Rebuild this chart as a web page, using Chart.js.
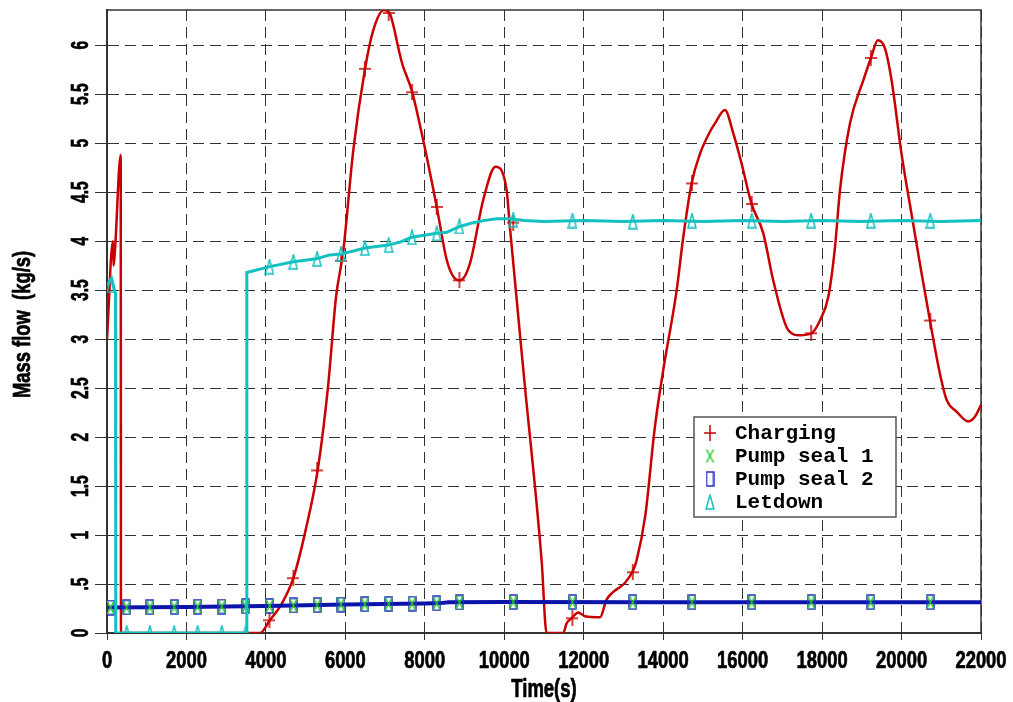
<!DOCTYPE html>
<html>
<head>
<meta charset="utf-8">
<title>Mass flow</title>
<script src="https://cdn.jsdelivr.net/npm/chart.js@4.4.0/dist/chart.umd.min.js"></script>
<style>
  html, body { margin: 0; padding: 0; background: #fff; }
  #wrap { width: 1013px; height: 702px; }
</style>
</head>
<body>
<div id="wrap"><canvas id="chart" width="1013" height="702"></canvas></div>
<script>
// axis ticks
const xTicks = [0, 2000, 4000, 6000, 8000, 10000, 12000, 14000, 16000, 18000, 20000, 22000];
const xTickLabels = ['0', '2000', '4000', '6000', '8000', '10000', '12000', '14000', '16000', '18000', '20000', '22000'];
const yTicks = [0, 0.5, 1, 1.5, 2, 2.5, 3, 3.5, 4, 4.5, 5, 5.5, 6];
const yTickLabels = ['0', '.5', '1', '1.5', '2', '2.5', '3', '3.5', '4', '4.5', '5', '5.5', '6'];
const xTitle = 'Time(s)';
const yTitle = 'Mass flow  (kg/s)';

const seriesNames = ['Charging', 'Pump seal 1', 'Pump seal 2', 'Letdown'];

// charging flow (kg/s)
const chargingTime = [0, 150, 165, 200, 345, 352, 3850, 4100, 4400, 4690, 5000, 5310, 5560, 5765, 5950, 6200, 6495, 6700, 6970,
  7120, 7375, 7440, 7670, 7960, 8300, 8550, 8715, 8885, 9135, 9470, 9780, 10060, 10140, 10500, 10940, 11065, 11485, 11570,
  11695, 11865, 12030, 12410, 12575, 12745, 13035, 13245, 13330, 13550, 13790, 14000, 14340, 14505, 14715, 14925, 15180,
  15300, 15555, 15765, 15975, 16225, 16520, 16770, 17150, 17440, 17735, 17945, 18155, 18325, 18450, 18700, 19035, 19230,
  19405, 19580, 19750, 20000, 20250, 20505, 20715, 20965, 21135, 21385, 21680, 21850, 22000];
const chargingFlow = [3.0, 4.0, 3.75, 3.9, 4.88, 0, 0, 0.13, 0.30, 0.56, 1.05, 1.68, 2.5, 3.43, 3.91, 4.93, 5.76, 6.15, 6.36,
  6.32, 5.90, 5.80, 5.54, 5.03, 4.35, 3.81, 3.64, 3.60, 3.77, 4.42, 4.76, 4.52, 4.15, 2.6, 0.74, 0, 0, 0.10,
  0.15, 0.21, 0.17, 0.16, 0.34, 0.42, 0.51, 0.64, 0.74, 1.2, 2.10, 2.68, 3.50, 4.04, 4.59, 4.89, 5.12,
  5.20, 5.34, 5.10, 4.79, 4.38, 4.08, 3.60, 3.09, 3.04, 3.06, 3.19, 3.43, 3.94, 4.52, 5.20, 5.64, 5.87,
  6.05, 5.97, 5.64, 4.89, 4.28, 3.67, 3.19, 2.65, 2.38, 2.26, 2.16, 2.21, 2.33];

// letdown flow (kg/s)
const letdownTime = [0, 115, 200, 215, 220, 3515, 3520, 4100, 4690, 5275, 5610, 5905, 6495, 7080, 7375, 7670, 8300, 8550,
  8885, 9135, 9470, 9805, 10140, 10500, 11000, 12000, 13000, 14000, 15000, 16000, 17000, 18000, 19000, 20000, 21000, 22000];
const letdownFlow = [3.55, 3.62, 3.48, 3.47, 0, 0, 3.68, 3.74, 3.79, 3.82, 3.86, 3.87, 3.93, 3.96, 3.99, 4.04, 4.08, 4.09,
  4.15, 4.18, 4.21, 4.23, 4.23, 4.21, 4.20, 4.21, 4.20, 4.21, 4.20, 4.21, 4.20, 4.21, 4.20, 4.21, 4.20, 4.21];

// pump seal flows (kg/s)
const sealTime = [0, 1000, 2000, 3000, 4000, 5000, 6000, 7000, 8000, 8400, 8600, 10000, 14000, 18000, 22000];
const seal1Flow = [0.26, 0.262, 0.265, 0.27, 0.275, 0.283, 0.29, 0.297, 0.302, 0.305, 0.315, 0.316, 0.315, 0.315, 0.315];
const seal2Flow = [0.26, 0.262, 0.265, 0.27, 0.275, 0.283, 0.29, 0.297, 0.302, 0.305, 0.315, 0.316, 0.315, 0.315, 0.315];

// symbols are only drawn every few output steps
const markTime = [90, 495, 1080, 1690, 2280, 2890, 3490, 4090, 4690, 5290, 5890, 6490, 7090, 7680, 8300, 8870,
  10225, 11715, 13235, 14725, 16228, 17725, 19225, 20725];
const chargingMark = [null, null, null, null, null, null, null, 0.13, 0.56, 1.66, 3.80, 5.76, 6.33, 5.52, 4.35, 3.60,
  4.19, 0.15, 0.62, 4.59, 4.38, 3.06, 5.87, 3.19];
const seal1Mark = [0.26, 0.262, 0.263, 0.265, 0.268, 0.27, 0.272, 0.276, 0.281, 0.285, 0.29, 0.294, 0.297, 0.3, 0.303, 0.312,
  0.316, 0.316, 0.315, 0.315, 0.315, 0.315, 0.315, 0.315];
const seal2Mark = [0.26, 0.262, 0.263, 0.265, 0.268, 0.27, 0.272, 0.276, 0.281, 0.285, 0.29, 0.294, 0.297, 0.3, 0.303, 0.312,
  0.316, 0.316, 0.315, 0.315, 0.315, 0.315, 0.315, 0.315];
const letdownMark = [3.55, 0, 0, 0, 0, 0, 0, 3.74, 3.79, 3.82, 3.87, 3.93, 3.96, 4.04, 4.08, 4.15,
  4.22, 4.21, 4.20, 4.21, 4.21, 4.21, 4.21, 4.21];

const RED = '#c80000';
const GREEN = '#22cc22';
const BLUE = '#0a14a8';
const CYAN = '#14c0c0';
const sans = "'Liberation Sans', Arial, sans-serif";

function toXY(ts, vs) {
    return ts.map((t, i) => ({x: t, y: vs[i]}));
}

// small canvases used as point symbols (tall, narrow like the original plot)
function makeMarker(w, h, color, draw) {
    const c = document.createElement('canvas');
    c.width = w;
    c.height = h;
    const g = c.getContext('2d');
    g.strokeStyle = color;
    g.lineWidth = 1.5;
    g.beginPath();
    draw(g, w, h);
    g.stroke();
    return c;
}

const plusMark = makeMarker(12, 16, RED, (g, w, h) => {
    g.moveTo(w / 2, 0); g.lineTo(w / 2, h);
    g.moveTo(0, h / 2); g.lineTo(w, h / 2);
});
const crossMark = makeMarker(9, 15, GREEN, (g, w, h) => {
    g.moveTo(1, 1); g.lineTo(w - 1, h - 1);
    g.moveTo(w - 1, 1); g.lineTo(1, h - 1);
});
const rectMark = makeMarker(9, 16, '#2030c0', (g, w, h) => {
    g.rect(1, 1, w - 2, h - 2);
});
const triMark = makeMarker(10, 16, CYAN, (g, w, h) => {
    g.moveTo(w / 2, 1); g.lineTo(w - 1, h - 1); g.lineTo(1, h - 1); g.closePath();
});
const legendMarks = [plusMark, crossMark, rectMark, triMark];

// the original uses a heavy narrow face, so the text is squeezed sideways and given a thin outline
function narrowText(ctx, text, x, y, sx, rot) {
    ctx.save();
    ctx.translate(x, y);
    ctx.rotate(rot);
    ctx.scale(sx, 1);
    ctx.textAlign = 'center';
    ctx.textBaseline = 'alphabetic';
    ctx.fillText(text, 0, 0);
    ctx.strokeText(text, 0, 0);
    ctx.restore();
}

const axisTextPlugin = {
    id: 'axisText',
    afterDraw(chart) {
        const {ctx, chartArea: a} = chart;
        const xs = chart.scales.x, ys = chart.scales.y;
        ctx.save();
        ctx.fillStyle = '#000';
        ctx.strokeStyle = '#000';
        ctx.lineWidth = 0.7;
        ctx.lineJoin = 'round';
        ctx.font = 'bold 23px ' + sans;
        xTicks.forEach((v, i) => narrowText(ctx, xTickLabels[i], xs.getPixelForValue(v), a.bottom + 35, 0.8, 0));
        yTicks.forEach((v, i) => narrowText(ctx, yTickLabels[i], a.left - 19, ys.getPixelForValue(v), 0.68, -Math.PI / 2));
        ctx.font = 'bold 25px ' + sans;
        narrowText(ctx, xTitle, (a.left + a.right) / 2, a.bottom + 64, 0.74, 0);
        ctx.font = 'bold 23px ' + sans;
        narrowText(ctx, yTitle, 30, (a.top + a.bottom) / 2 + 3, 0.8, -Math.PI / 2);
        ctx.restore();
    }
};

const framePlugin = {
    id: 'frame',
    beforeDatasetsDraw(chart) {
        const {ctx, chartArea: a} = chart;
        ctx.save();
        ctx.strokeStyle = '#333';
        ctx.lineWidth = 1.5;
        ctx.beginPath();
        ctx.moveTo(a.left, a.top);
        ctx.lineTo(a.right, a.top);
        ctx.lineTo(a.right, a.bottom);
        ctx.stroke();
        ctx.restore();
    }
};

const legendPlugin = {
    id: 'boxLegend',
    afterDraw(chart) {
        const {ctx, chartArea: a} = chart;
        const left = a.left + 587, top = a.top + 407, w = 202, h = 100;
        ctx.save();
        ctx.fillStyle = '#fff';
        ctx.fillRect(left, top, w, h);
        ctx.strokeStyle = '#555';
        ctx.lineWidth = 1.5;
        ctx.strokeRect(left, top, w, h);
        ctx.font = "bold 21px 'Liberation Mono', 'Courier New', monospace";
        ctx.fillStyle = '#000';
        ctx.textBaseline = 'middle';
        legendMarks.forEach((m, i) => {
            const y = top + 16 + i * 23;
            ctx.drawImage(m, left + 16 - m.width / 2, y - m.height / 2);
            ctx.fillText(seriesNames[i], left + 41, y + 1);
        });
        ctx.restore();
    }
};

const lineBase = {pointRadius: 0, fill: false, spanGaps: false};
const markBase = {showLine: false, pointRadius: 5, pointHoverRadius: 5};

new Chart(document.getElementById('chart'), {
    type: 'line',
    data: {
        datasets: [
            Object.assign({label: seriesNames[3], data: toXY(letdownTime, letdownFlow), borderColor: CYAN, borderWidth: 3, order: 1}, lineBase),
            Object.assign({label: seriesNames[3], data: toXY(markTime, letdownMark), pointStyle: triMark, order: 0}, markBase),
            Object.assign({label: seriesNames[2], data: toXY(markTime, seal2Mark), pointStyle: rectMark, order: 3}, markBase),
            Object.assign({label: seriesNames[1], data: toXY(markTime, seal1Mark), pointStyle: crossMark, order: 2}, markBase),
            Object.assign({label: seriesNames[2], data: toXY(sealTime, seal2Flow), borderColor: BLUE, borderWidth: 4, order: 4}, lineBase),
            Object.assign({label: seriesNames[1], data: toXY(sealTime, seal1Flow), borderColor: '#1a8a7a', borderWidth: 2, order: 5}, lineBase),
            Object.assign({label: seriesNames[0], data: toXY(markTime, chargingMark), pointStyle: plusMark, order: 6}, markBase),
            Object.assign({label: seriesNames[0], data: toXY(chargingTime, chargingFlow), borderColor: RED, borderWidth: 2.5,
                cubicInterpolationMode: 'monotone', order: 7}, lineBase)
        ]
    },
    options: {
        responsive: false,
        animation: false,
        events: [],
        layout: {padding: {top: 10, right: 32, left: 0, bottom: 0}},
        scales: {
            x: {
                type: 'linear',
                min: 0,
                max: 22000,
                afterBuildTicks: s => { s.ticks = xTicks.map(v => ({value: v})); },
                afterFit: s => {
                    s.height = 69;
                    s.paddingLeft = 0;
                    s.paddingRight = 0;
                },
                ticks: {display: false},
                grid: {color: '#333', lineWidth: 1, tickLength: 7},
                border: {color: '#333', width: 2, dash: [11, 6]}
            },
            y: {
                min: 0,
                max: 6.36,
                afterBuildTicks: s => { s.ticks = yTicks.map(v => ({value: v})); },
                afterFit: s => {
                    s.width = 107;
                    s.paddingTop = 0;
                    s.paddingBottom = 0;
                },
                ticks: {display: false},
                grid: {color: '#333', lineWidth: 1, tickLength: 12},
                border: {color: '#333', width: 2, dash: [11, 6]}
            }
        },
        plugins: {
            legend: {display: false},
            tooltip: {enabled: false}
        }
    },
    plugins: [framePlugin, axisTextPlugin, legendPlugin]
});
</script>
</body>
</html>
